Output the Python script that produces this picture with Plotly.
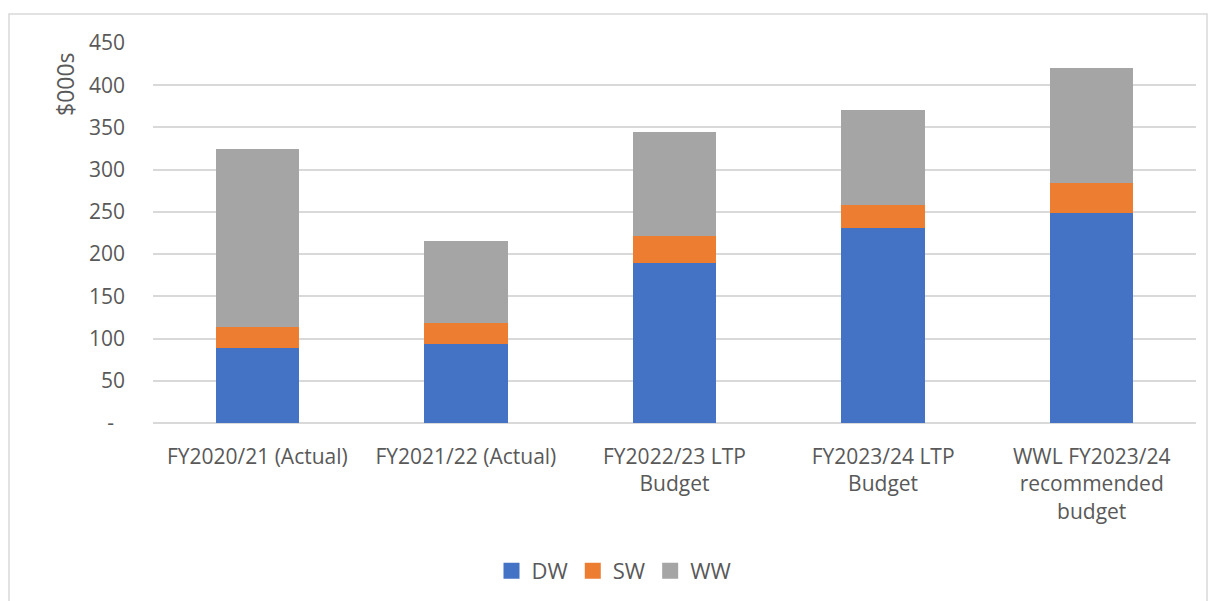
import plotly.graph_objects as go

categories = ["FY2020/21 (Actual)", "FY2021/22 (Actual)", "FY2022/23 LTP<br>Budget",
              "FY2023/24 LTP<br>Budget", "WWL FY2023/24<br>recommended<br>budget"]
dw = [89, 94, 190, 231, 249]
sw = [25, 25, 31, 27, 35]
ww = [210, 97, 124, 113, 136]
tick_vals = [0, 50, 100, 150, 200, 250, 300, 350, 400, 450]
tick_text = ["-\u00a0\u00a0", "50", "100", "150", "200", "250", "300", "350", "400", "450"]

series = [("DW", dw, "#4472C4"), ("SW", sw, "#ED7D31"), ("WW", ww, "#A5A5A5")]

font_family = "Open Sans"
txt_color = "#595959"

# figure coordinates (page has 8px body margin)
W, H = 1208, 593
L, R, T, B = 145, 20, 35, 178
pw, ph = W - L - R, H - T - B

fig = go.Figure()
for name, vals, col in series:
    fig.add_bar(x=categories, y=vals, name=name, showlegend=False,
                marker=dict(color=col, line_width=0))
for name, vals, col in series:
    fig.add_scatter(x=[categories[0]], y=[None], name=name, mode="markers",
                    marker=dict(symbol="square", size=16, color=col), showlegend=True)

fig.update_layout(
    barmode="stack",
    bargap=0.6,
    width=W, height=H,
    margin=dict(l=L, r=R, t=T, b=B, autoexpand=False),
    paper_bgcolor="white", plot_bgcolor="white",
    font=dict(family=font_family, size=21, color=txt_color),
    legend=dict(orientation="h", x=(606 - L) / pw, xanchor="center",
                y=-(563 - (H - B)) / ph, yanchor="middle",
                font=dict(size=22, color=txt_color), traceorder="normal",
                itemsizing="trace", tracegroupgap=0),
    xaxis=dict(showgrid=False, showline=False, ticks="", tickfont=dict(size=21),
               ticklabelstandoff=19, automargin=False),
    yaxis=dict(range=[0, 450], tickvals=tick_vals, ticktext=tick_text,
               showgrid=True, gridcolor="#d9d9d9", gridwidth=1.5,
               zeroline=True, zerolinecolor="#d9d9d9", zerolinewidth=1.5,
               showline=False, ticks="", tickfont=dict(size=21), ticklabelstandoff=27,
               automargin=False),
    annotations=[dict(text="$000s", textangle=-90, xref="paper", yref="paper",
                      x=(57 - L) / pw, y=((H - B) - 76) / ph, xanchor="center", yanchor="middle",
                      showarrow=False, font=dict(size=23, color=txt_color))],
    shapes=[dict(type="rect", xref="paper", yref="paper",
                 x0=(1 - L) / pw, x1=(1199 - L) / pw,
                 y0=((H - B) - 620) / ph, y1=((H - B) - 6) / ph,
                 line=dict(color="#d9d9d9", width=1.5), layer="below")],
)

fig.write_html("out.html")
